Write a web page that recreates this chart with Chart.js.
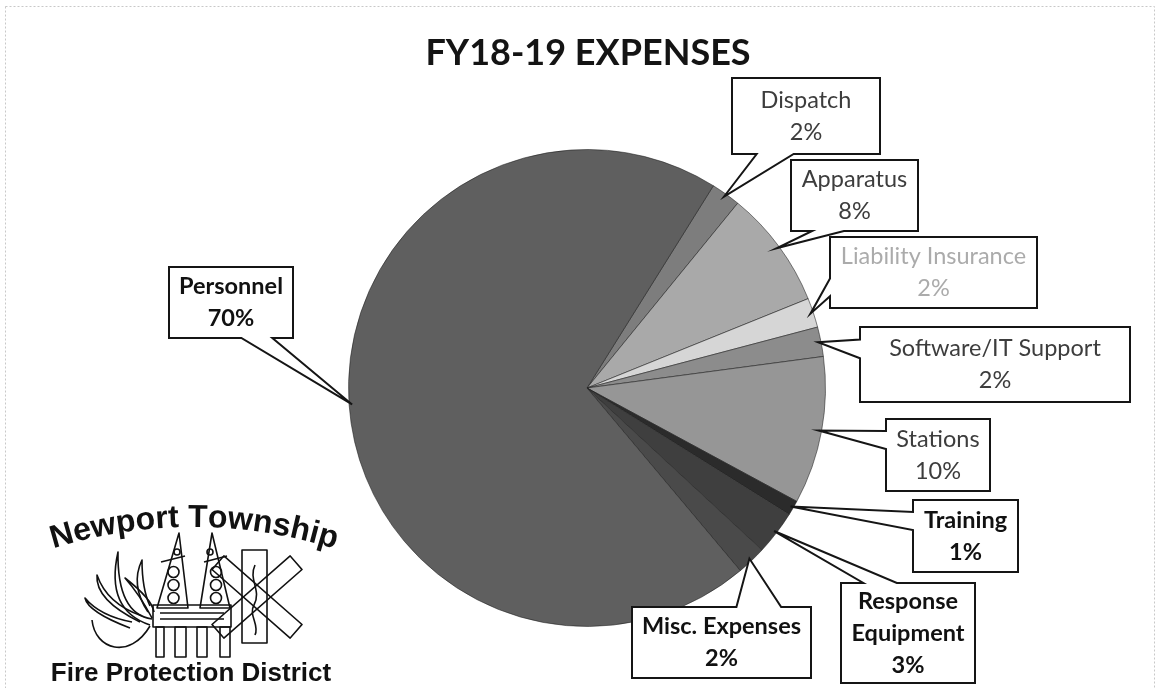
<!DOCTYPE html>
<html><head><meta charset="utf-8">
<style>html,body{margin:0;padding:0;background:#fff;overflow:hidden}canvas{display:block}</style>
<script src="https://cdn.jsdelivr.net/npm/chart.js@4.4.1/dist/chart.umd.min.js"></script>
</head><body>
<canvas id="c" width="1159" height="688"></canvas>
<script>
// ---- data ----
const chartTitle = 'FY18-19 EXPENSES';
const categories = ['Dispatch', 'Apparatus', 'Liability Insurance', 'Software/IT Support', 'Stations', 'Training', 'Response Equipment', 'Misc. Expenses', 'Personnel'];
const percentages = [2, 8, 2, 2, 10, 1, 3, 2, 70];
const sliceColors = ['#7d7d7d', '#a9a9a9', '#d6d6d6', '#8c8c8c', '#969696', '#2b2b2b', '#3f3f3f', '#4a4a4a', '#5f5f5f'];
const logoTop = 'Newport Township';
const logoBottom = 'Fire Protection District';

// ---- callout layout (annotation boxes, not data) ----
const calloutBoxes = [
  {l: 732, t: 78,  w: 148, h: 76,  color: '#3d3d3d', bold: false},
  {l: 791, t: 160, w: 127, h: 71,  color: '#3d3d3d', bold: false},
  {l: 830, t: 237, w: 207, h: 71,  color: '#ababab', bold: false},
  {l: 860, t: 327, w: 270, h: 75,  color: '#3d3d3d', bold: false},
  {l: 886, t: 419, w: 104, h: 72,  color: '#3d3d3d', bold: false},
  {l: 913, t: 500, w: 105, h: 72,  color: '#111111', bold: true},
  {l: 841, t: 583, w: 134, h: 100, color: '#111111', bold: true, wrap: true},
  {l: 632, t: 607, w: 179, h: 71,  color: '#111111', bold: true},
  {l: 169, t: 267, w: 124, h: 71,  color: '#111111', bold: true}
];
const labelFont = 'Lato, "Open Sans", sans-serif';

function calloutPath(ctx, b, tip) {
  const l = b.l, t = b.t, w = b.w, h = b.h, r = l + w, bt = t + h;
  const hc = l + w / 2, vc = t + h / 2;
  const dx = tip.x - hc, dy = tip.y - vc;
  const dq = dx * h / w;
  ctx.beginPath();
  if (Math.abs(dy) > Math.abs(dq)) {
    const x1 = l + w * (dx > 0 ? 7 : 2) / 12, x2 = l + w * (dx > 0 ? 10 : 5) / 12;
    if (dy < 0) {
      ctx.moveTo(l, t); ctx.lineTo(x1, t); ctx.lineTo(tip.x, tip.y); ctx.lineTo(x2, t);
      ctx.lineTo(r, t); ctx.lineTo(r, bt); ctx.lineTo(l, bt);
    } else {
      ctx.moveTo(l, t); ctx.lineTo(r, t); ctx.lineTo(r, bt); ctx.lineTo(x2, bt);
      ctx.lineTo(tip.x, tip.y); ctx.lineTo(x1, bt); ctx.lineTo(l, bt);
    }
  } else {
    const y1 = t + h * (dy > 0 ? 7 : 2) / 12, y2 = t + h * (dy > 0 ? 10 : 5) / 12;
    if (dx < 0) {
      ctx.moveTo(l, t); ctx.lineTo(r, t); ctx.lineTo(r, bt); ctx.lineTo(l, bt);
      ctx.lineTo(l, y2); ctx.lineTo(tip.x, tip.y); ctx.lineTo(l, y1);
    } else {
      ctx.moveTo(l, t); ctx.lineTo(r, t); ctx.lineTo(r, y1); ctx.lineTo(tip.x, tip.y);
      ctx.lineTo(r, y2); ctx.lineTo(r, bt); ctx.lineTo(l, bt);
    }
  }
  ctx.closePath();
}

function drawLogo(ctx) {
  ctx.save();
  ctx.fillStyle = '#111';
  ctx.strokeStyle = '#111';
  // arched text
  ctx.font = 'bold 32px "Liberation Sans", Arial, sans-serif';
  const R = 470, cx = 193, cy = 527 + R;
  const total = ctx.measureText(logoTop).width;
  let ang = -Math.PI / 2 - total / R / 2;
  for (const ch of logoTop) {
    const cw = ctx.measureText(ch).width;
    const a = ang + (cw / 2) / R;
    ctx.save();
    ctx.translate(cx + R * Math.cos(a), cy + R * Math.sin(a));
    ctx.rotate(a + Math.PI / 2);
    ctx.textAlign = 'center';
    ctx.textBaseline = 'alphabetic';
    ctx.fillText(ch, 0, 0);
    ctx.restore();
    ang += cw / R;
  }
  // bottom text
  ctx.font = 'bold 26px "Liberation Sans", Arial, sans-serif';
  ctx.textAlign = 'center';
  ctx.textBaseline = 'alphabetic';
  ctx.fillText(logoBottom, 191, 681);

  // simplified emblem drawing
  ctx.lineWidth = 1.6;
  ctx.lineJoin = 'round';
  const flames = [
    [[150, 625], [105, 610], [118, 552]],
    [[140, 622], [95, 600], [97, 575]],
    [[130, 628], [88, 612], [85, 598]],
    [[148, 612], [130, 585], [142, 560]],
    [[152, 618], [140, 595], [125, 578]]
  ];
  flames.forEach(f => {
    ctx.beginPath();
    ctx.moveTo(f[0][0], f[0][1]);
    ctx.quadraticCurveTo(f[1][0], f[1][1], f[2][0], f[2][1]);
    ctx.quadraticCurveTo(f[1][0] + 12, f[1][1] + 4, f[0][0] + 2, f[0][1] - 6);
    ctx.stroke();
  });
  ctx.beginPath();
  ctx.moveTo(150, 626);
  ctx.bezierCurveTo(130, 660, 95, 650, 92, 620);
  ctx.stroke();
  [[157, 188, 179], [200, 230, 212]].forEach(([a, b, p]) => {
    ctx.beginPath();
    ctx.moveTo(a, 608); ctx.lineTo(p, 533); ctx.lineTo(b, 608); ctx.closePath();
    ctx.stroke();
    ctx.beginPath(); ctx.moveTo(a + 4, 562); ctx.lineTo(b - 3, 556); ctx.stroke();
    [572, 585, 598].forEach(yy => {
      ctx.beginPath(); ctx.arc((a + b) / 2 + 1, yy, 5.5, 0, Math.PI * 2); ctx.stroke();
    });
    ctx.beginPath(); ctx.arc(p - 2, 552, 3, 0, Math.PI * 2); ctx.stroke();
  });
  ctx.strokeRect(153, 605, 78, 22);
  ctx.beginPath(); ctx.moveTo(160, 613); ctx.lineTo(224, 613); ctx.moveTo(160, 619); ctx.lineTo(224, 619); ctx.stroke();
  [[156, 8], [175, 11], [197, 10], [220, 10]].forEach(([x, w]) => ctx.strokeRect(x, 627, w, 30));
  ctx.strokeRect(242, 550, 25, 93);
  ctx.beginPath();
  ctx.moveTo(255, 565);
  ctx.bezierCurveTo(248, 580, 262, 590, 254, 605);
  ctx.bezierCurveTo(248, 615, 260, 625, 255, 635);
  ctx.stroke();
  ctx.save();
  ctx.translate(257, 597);
  [-0.72, 0.72].forEach(rot => {
    ctx.save(); ctx.rotate(rot); ctx.strokeRect(-52, -9, 104, 18); ctx.restore();
  });
  ctx.restore();
  ctx.restore();
}

const calloutPlugin = {
  id: 'callouts',
  afterDraw(chart) {
    const ctx = chart.ctx;
    const meta = chart.getDatasetMeta(0);
    ctx.save();
    ctx.strokeStyle = '#c8c8c8';
    ctx.lineWidth = 1;
    ctx.setLineDash([2, 2]);
    ctx.strokeRect(5.5, 6.5, 1149, 690);
    ctx.setLineDash([]);
    ctx.fillStyle = '#141414';
    ctx.font = 'bold 36px ' + labelFont;
    ctx.textAlign = 'center';
    ctx.textBaseline = 'alphabetic';
    ctx.fillText(chartTitle, 588, 65);
    meta.data.forEach((arc, i) => {
      const p = arc.getProps(['x', 'y', 'startAngle', 'endAngle', 'outerRadius'], true);
      const mid = (p.startAngle + p.endAngle) / 2;
      const rr = p.outerRadius - 3;
      const tip = {x: p.x + Math.cos(mid) * rr, y: p.y + Math.sin(mid) * rr};
      const b = calloutBoxes[i];
      calloutPath(ctx, b, tip);
      ctx.fillStyle = '#ffffff';
      ctx.fill();
      ctx.strokeStyle = '#151515';
      ctx.lineWidth = 2;
      ctx.lineJoin = 'miter';
      ctx.stroke();
      const name = categories[i];
      const lines = b.wrap ? name.split(' ') : [name];
      lines.push(percentages[i] + '%');
      ctx.fillStyle = b.color;
      ctx.font = (b.bold ? 'bold ' : '') + '23.5px ' + labelFont;
      ctx.textAlign = 'center';
      ctx.textBaseline = 'middle';
      const lh = 32;
      const y0 = b.t + b.h / 2 - (lines.length - 1) * lh / 2;
      lines.forEach((ln, k) => ctx.fillText(ln, b.l + b.w / 2, y0 + k * lh));
    });
    drawLogo(ctx);
    ctx.restore();
  }
};

new Chart(document.getElementById('c'), {
  type: 'pie',
  data: {
    labels: categories,
    datasets: [{
      data: percentages,
      backgroundColor: sliceColors,
      borderColor: 'rgba(30,30,30,0.55)',
      borderWidth: 1
    }]
  },
  options: {
    responsive: false,
    animation: false,
    devicePixelRatio: 1,
    events: [],
    rotation: 32,
    layout: {padding: {top: 149, bottom: 61, left: 348, right: 333}},
    plugins: {legend: {display: false}, tooltip: {enabled: false}, title: {display: false}}
  },
  plugins: [calloutPlugin]
});
</script>
</body></html>
